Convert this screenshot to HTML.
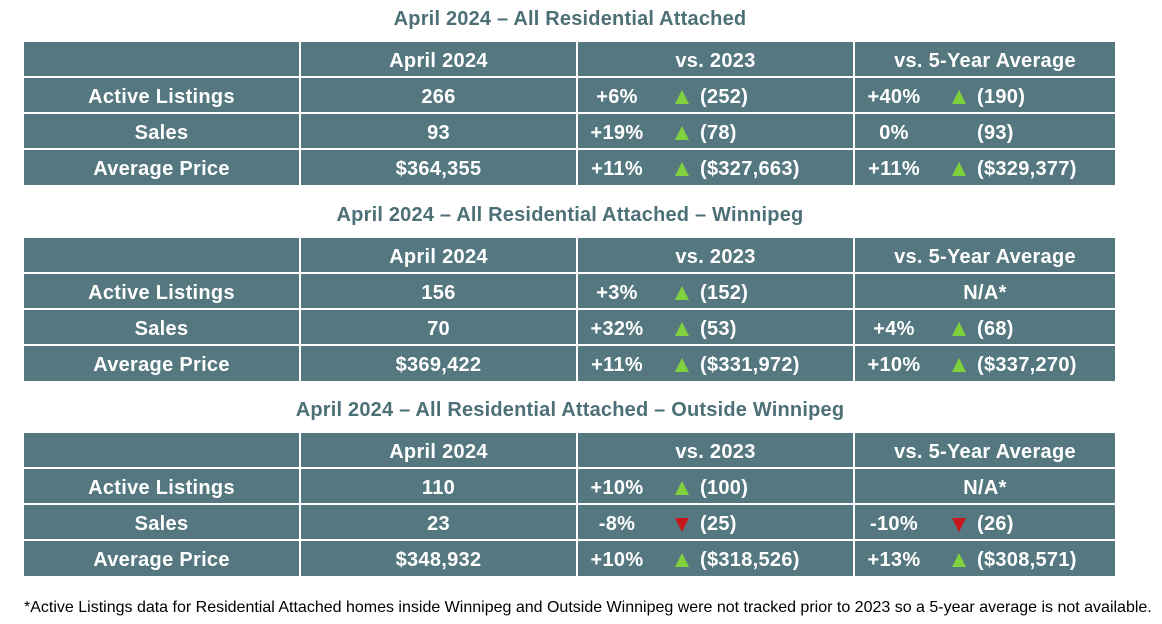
<!DOCTYPE html>
<html><head><meta charset="utf-8"><style>
body{margin:0;width:1162px;height:624px;background:#fff;font-family:"Liberation Sans",Arial,sans-serif;position:relative;overflow:hidden}
.t{position:absolute;left:0;width:1140px;text-align:center;font-weight:bold;font-size:20px;letter-spacing:0.2px;color:#4d7077}
.g{position:absolute;left:24px;width:1091px;display:grid;grid-template-columns:275px 275px 275px 260px;grid-template-rows:34px 34px 34px 35px;gap:2px;background:#fff}
.g div{background:#557880;color:#fff;font-weight:bold;font-size:20px;letter-spacing:0.3px;line-height:38px;text-align:center;position:relative}
.g div.v{text-align:left}
.p{position:absolute;left:0;width:78px;text-align:center}
.u,.d{position:absolute;left:97px;top:12px;width:0;height:0;border-left:7px solid transparent;border-right:7px solid transparent}
.u{border-bottom:14px solid #7fd23e}
.d{border-top:14px solid #c8161d;top:13px}
.n{position:absolute;left:122px}
.f{position:absolute;left:24px;top:599px;font-size:16px;color:#000;white-space:nowrap}
</style></head><body>
<div class="t" style="top:8px">April 2024 – All Residential Attached</div>
<div class="g" style="top:42px">
<div></div><div>April 2024</div><div>vs. 2023</div><div>vs. 5-Year Average</div>
<div>Active Listings</div><div>266</div><div class="v"><span class="p">+6%</span><span class="u"></span><span class="n">(252)</span></div><div class="v"><span class="p">+40%</span><span class="u"></span><span class="n">(190)</span></div>
<div>Sales</div><div>93</div><div class="v"><span class="p">+19%</span><span class="u"></span><span class="n">(78)</span></div><div class="v"><span class="p">0%</span><span class="n">(93)</span></div>
<div>Average Price</div><div>$364,355</div><div class="v"><span class="p">+11%</span><span class="u"></span><span class="n">($327,663)</span></div><div class="v"><span class="p">+11%</span><span class="u"></span><span class="n">($329,377)</span></div>
</div>
<div class="t" style="top:204px">April 2024 – All Residential Attached – Winnipeg</div>
<div class="g" style="top:238px">
<div></div><div>April 2024</div><div>vs. 2023</div><div>vs. 5-Year Average</div>
<div>Active Listings</div><div>156</div><div class="v"><span class="p">+3%</span><span class="u"></span><span class="n">(152)</span></div><div>N/A*</div>
<div>Sales</div><div>70</div><div class="v"><span class="p">+32%</span><span class="u"></span><span class="n">(53)</span></div><div class="v"><span class="p">+4%</span><span class="u"></span><span class="n">(68)</span></div>
<div>Average Price</div><div>$369,422</div><div class="v"><span class="p">+11%</span><span class="u"></span><span class="n">($331,972)</span></div><div class="v"><span class="p">+10%</span><span class="u"></span><span class="n">($337,270)</span></div>
</div>
<div class="t" style="top:399px">April 2024 – All Residential Attached – Outside Winnipeg</div>
<div class="g" style="top:433px">
<div></div><div>April 2024</div><div>vs. 2023</div><div>vs. 5-Year Average</div>
<div>Active Listings</div><div>110</div><div class="v"><span class="p">+10%</span><span class="u"></span><span class="n">(100)</span></div><div>N/A*</div>
<div>Sales</div><div>23</div><div class="v"><span class="p">-8%</span><span class="d"></span><span class="n">(25)</span></div><div class="v"><span class="p">-10%</span><span class="d"></span><span class="n">(26)</span></div>
<div>Average Price</div><div>$348,932</div><div class="v"><span class="p">+10%</span><span class="u"></span><span class="n">($318,526)</span></div><div class="v"><span class="p">+13%</span><span class="u"></span><span class="n">($308,571)</span></div>
</div>
<div class="f">*Active Listings data for Residential Attached homes inside Winnipeg and Outside Winnipeg were not tracked prior to 2023 so a 5-year average is not available.</div>
</body></html>
